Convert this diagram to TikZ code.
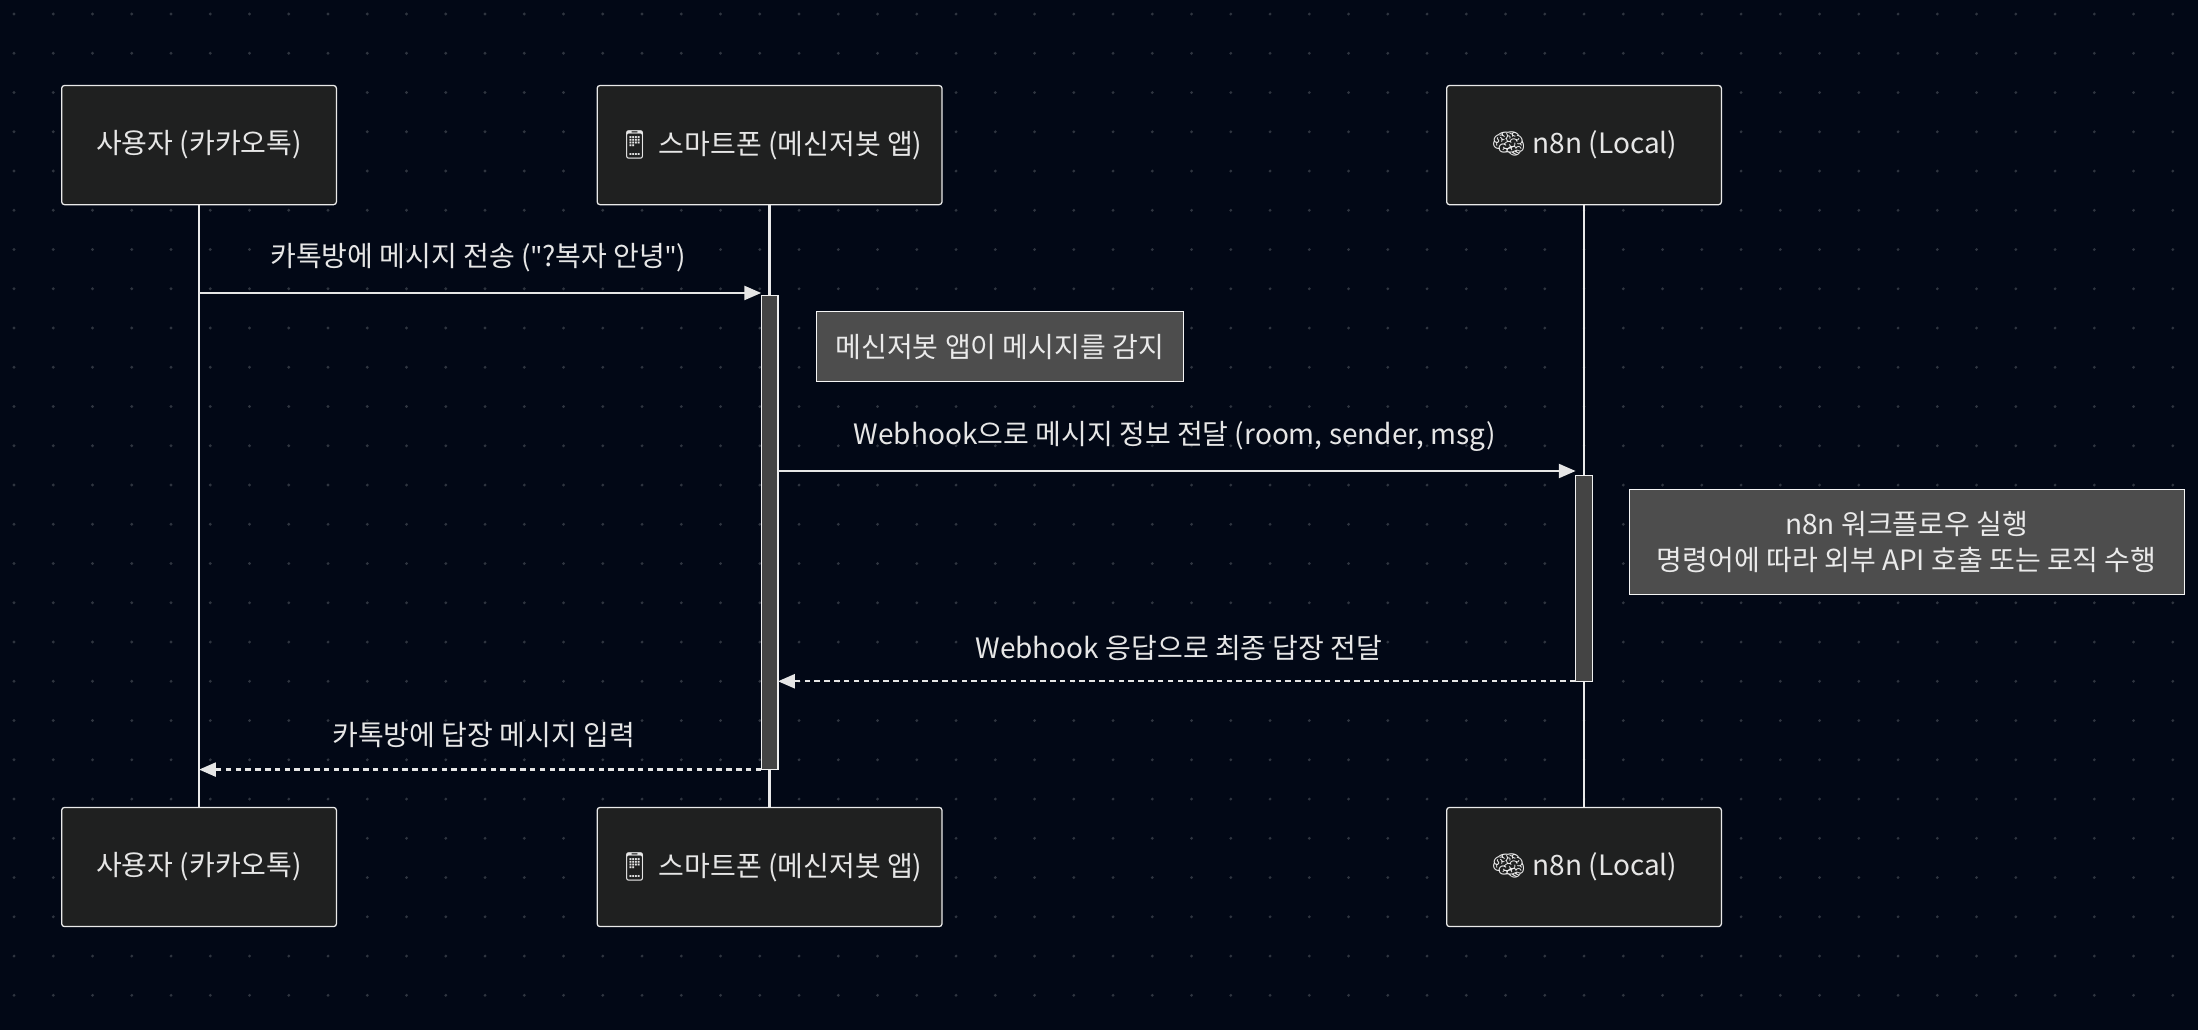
\documentclass[tikz,border=0pt]{standalone}
\usepackage{fontspec}
\setmainfont{Noto Sans CJK KR}[Ligatures=NoCommon]
\newfontfamily\emo{Noto Emoji}
\newfontfamily\qf{Noto Sans}
\usetikzlibrary{arrows.meta}
\definecolor{bg}{HTML}{020816}
\definecolor{boxf}{HTML}{1F2020}
\definecolor{txt}{HTML}{E6E6E6}
\definecolor{notef}{HTML}{4D4D4D}
\definecolor{actf}{HTML}{444444}
\tikzset{
 x=1pt,y=-1pt,
 actor/.style={draw=txt!85,fill=boxf,rounded corners=2pt,minimum width=196pt,minimum height=85pt,text=txt,font=\fontsize{20}{22}\selectfont,line width=0.9pt},
 life/.style={draw=txt!85,line width=1.6pt},
 act/.style={draw=txt!60,fill=actf,line width=0.9pt},
 msg/.style={draw=txt,line width=1.6pt,-{Triangle[length=12pt,width=10pt]}},
 rmsg/.style={msg,dashed,dash pattern=on 4pt off 3pt},
 lbl/.style={text=txt,font=\fontsize{20}{22}\selectfont},
 note/.style={draw=txt!40,fill=notef,text=txt!85,font=\fontsize{20}{25}\selectfont,align=center,anchor=north west,inner sep=0pt}
}
\begin{document}
\begin{tikzpicture}
\fill[bg] (0,0) rectangle (1568,735);
\useasboundingbox (0,0) rectangle (1568,735);
\foreach \i in {0,...,56}{\foreach \j in {0,...,26}{\fill[white!18!bg] (10+28*\i,10+28*\j) circle (1.1pt);}}
% lifelines
\coordinate (l1t) at (142,146); \coordinate (l1b) at (142,576);
\coordinate (l2t) at (549,146); \coordinate (l2b) at (549,576);
\coordinate (l3t) at (1130,146); \coordinate (l3b) at (1130,576);
\draw[life] (l1t)--(l1b); \draw[life] (l2t)--(l2b); \draw[life] (l3t)--(l3b);
\node[actor] (a1) at (142,103.5) {사용자 (카카오톡)};
\node[actor,minimum width=246pt] (a2) at (549,103.5) {{\emo 📱} 스마트폰 (메신저봇 앱)};
\node[actor] (a3) at (1130,103.5) {{\emo 🧠} n8n (Local)};
\node[actor] (b1) at (142,618.5) {사용자 (카카오톡)};
\node[actor,minimum width=246pt] (b2) at (549,618.5) {{\emo 📱} 스마트폰 (메신저봇 앱)};
\node[actor] (b3) at (1130,618.5) {{\emo 🧠} n8n (Local)};
\draw[act] (543,211) rectangle (555,549);
\draw[act] (1124,339) rectangle (1136,486);
\coordinate (m1s) at (142,209); \coordinate (m1e) at (543,209);
\draw[msg] (m1s)--(m1e);
\node[lbl] (t1) at (341,184) {카톡방에 메시지 전송 ({\qf\symbol{"22}}?복자 안녕{\qf\symbol{"22}})};
\node[note,minimum width=262pt,minimum height=50pt] (n1) at (582,222) {메신저봇 앱이 메시지를 감지};
\coordinate (m2s) at (555,336); \coordinate (m2e) at (1124,336);
\draw[msg] (m2s)--(m2e);
\node[lbl] (t2) at (838,311) {Webhook으로 메시지 정보 전달 (room, sender, msg)};
\node[note,minimum width=396pt,minimum height=75pt] (n2) at (1162,349) {n8n 워크플로우 실행\\명령어에 따라 외부 API 호출 또는 로직 수행};
\coordinate (m3s) at (1124,486); \coordinate (m3e) at (555,486);
\draw[rmsg] (m3s)--(m3e);
\node[lbl] (t3) at (841,462) {Webhook 응답으로 최종 답장 전달};
\coordinate (m4s) at (543,549); \coordinate (m4e) at (142,549);
\draw[rmsg] (m4s)--(m4e);
\node[lbl] (t4) at (345,524) {카톡방에 답장 메시지 입력};
\end{tikzpicture}
\end{document}
